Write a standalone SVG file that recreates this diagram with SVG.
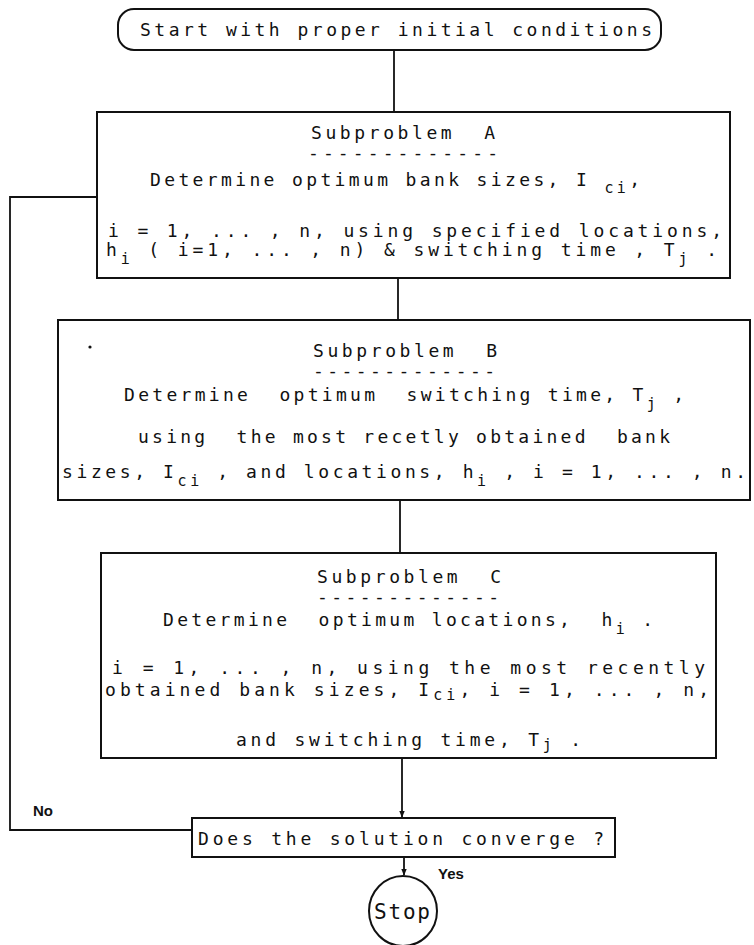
<svg xmlns="http://www.w3.org/2000/svg" width="754" height="945" viewBox="0 0 754 945">
<style>
text{font-family:"DejaVu Sans Mono","Liberation Mono",monospace;font-size:18px;fill:#111;white-space:pre}
.sub{font-size:15px}
.lbl{font-family:"Liberation Sans",Arial,sans-serif;font-weight:bold;font-size:15px}
.box{fill:#fff;stroke:#111;stroke-width:2}
.ln{fill:none;stroke:#111;stroke-width:1.8}
</style>
<defs>
<marker id="ah" viewBox="0 0 10 10" refX="9" refY="5" markerWidth="7" markerHeight="7" orient="auto" markerUnits="userSpaceOnUse">
<path d="M0,1 L10,5 L0,9 z" fill="#111"/>
</marker>
</defs>
<g id="connectors">
<line class="ln" x1="394" y1="50" x2="394" y2="112"/>
<line class="ln" x1="398" y1="278" x2="398" y2="320"/>
<line class="ln" x1="400" y1="500" x2="400" y2="553"/>
<line class="ln" x1="402" y1="758" x2="402" y2="817" marker-end="url(#ah)"/>
<line class="ln" x1="404" y1="857" x2="404" y2="875" marker-end="url(#ah)"/>
<polyline class="ln" points="192,830 10,830 10,197 97,197"/>
<text class="lbl" x="33" y="816">No</text>
<text class="lbl" x="438" y="879">Yes</text>
</g>
<g id="start">
<rect class="box" x="118" y="9" width="543" height="41" rx="16" ry="16"/>
<text x="140" y="36" textLength="512" lengthAdjust="spacing">Start with proper initial conditions</text>
</g>
<g id="subA">
<rect class="box" x="97" y="112" width="633" height="166"/>
<text x="311" y="139" textLength="184" lengthAdjust="spacing">Subproblem  A</text>
<text x="308" y="159" textLength="190" lengthAdjust="spacing">-------------</text>
<text x="150" y="186" textLength="490" lengthAdjust="spacing">Determine optimum bank sizes, I <tspan class="sub" dy="7">ci</tspan><tspan dy="-7">,</tspan></text>
<text x="108" y="237" textLength="614" lengthAdjust="spacing">i = 1, ... , n, using specified locations,</text>
<text x="106" y="256" textLength="611" lengthAdjust="spacing">h<tspan class="sub" dy="8">i</tspan><tspan dy="-8"> ( i=1, ... , n) &amp; switching time , T</tspan><tspan class="sub" dy="8">j</tspan><tspan dy="-8"> .</tspan></text>
</g>
<g id="subB">
<rect class="box" x="58" y="320" width="692" height="180"/>
<circle cx="90" cy="347" r="1.6" fill="#111"/>
<text x="313" y="357" textLength="184" lengthAdjust="spacing">Subproblem  B</text>
<text x="313" y="377" textLength="182" lengthAdjust="spacing">-------------</text>
<text x="124" y="401" textLength="560" lengthAdjust="spacing">Determine  optimum  switching time, T<tspan class="sub" dy="8">j</tspan><tspan dy="-8"> ,</tspan></text>
<text x="138" y="443" textLength="532" lengthAdjust="spacing">using  the most recetly obtained  bank</text>
<text x="62" y="478" textLength="684" lengthAdjust="spacing">sizes, I<tspan class="sub" dy="8">ci</tspan><tspan dy="-8"> , and locations, h</tspan><tspan class="sub" dy="8">i</tspan><tspan dy="-8"> , i = 1, ... , n.</tspan></text>
</g>
<g id="subC">
<rect class="box" x="101" y="553" width="615" height="205"/>
<text x="317" y="583" textLength="184" lengthAdjust="spacing">Subproblem  C</text>
<text x="317" y="603" textLength="182" lengthAdjust="spacing">-------------</text>
<text x="163" y="626" textLength="490" lengthAdjust="spacing">Determine  optimum locations,  h<tspan class="sub" dy="8">i</tspan><tspan dy="-8"> .</tspan></text>
<text x="112" y="674" textLength="593" lengthAdjust="spacing">i = 1, ... , n, using the most recently</text>
<text x="105" y="696" textLength="604" lengthAdjust="spacing">obtained bank sizes, I<tspan class="sub" dy="4">ci</tspan><tspan dy="-4">, i = 1, ... , n,</tspan></text>
<text x="236" y="746" textLength="345" lengthAdjust="spacing">and switching time, T<tspan class="sub" dy="4">j</tspan><tspan dy="-4"> .</tspan></text>
</g>
<g id="decision">
<rect class="box" x="192" y="818" width="423" height="39"/>
<text x="198" y="845" textLength="406" lengthAdjust="spacing">Does the solution converge ?</text>
</g>
<g id="stop">
<ellipse class="box" cx="403" cy="911" rx="34" ry="35"/>
<text x="374" y="919" style="font-size:21px" textLength="56" lengthAdjust="spacing">Stop</text>
</g>
</svg>
